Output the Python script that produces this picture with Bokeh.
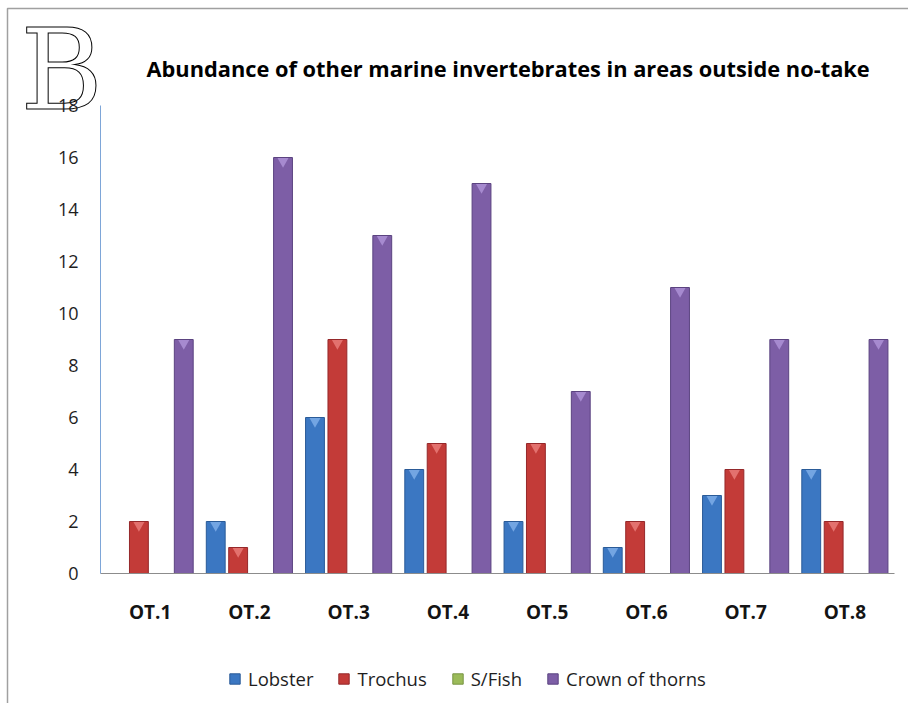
from bokeh.plotting import figure
from bokeh.models import (Range1d, Label, Legend, LegendItem, ColumnDataSource,
                          LinearAxis, FixedTicker, BoxAnnotation, CDSView, BooleanFilter)
from bokeh.transform import dodge
from bokeh.embed import file_html
from bokeh.resources import INLINE

sites = ["OT.1", "OT.2", "OT.3", "OT.4", "OT.5", "OT.6", "OT.7", "OT.8"]
lobster = [0, 2, 6, 4, 2, 1, 3, 4]
trochus = [2, 1, 9, 5, 5, 2, 4, 2]
sfish = [0, 0, 0, 0, 0, 0, 0, 0]
crown = [9, 16, 13, 15, 7, 11, 9, 9]
y_ticks = [0, 2, 4, 6, 8, 10, 12, 14, 16, 18]
y_max = 18
title_text = "Abundance of other marine invertebrates in areas outside no-take"

series = [
    ("Lobster", "Lobster", lobster, "#3b77c2", "#2a5b98", "#7aaae6", -0.339),
    ("Trochus", "Trochus", trochus, "#c33b38", "#95282a", "#e77874", -0.113),
    ("S/Fish", "SFish", sfish, "#9bbb59", "#789443", "#c2dc8c", 0.113),
    ("Crown of thorns", "Crown", crown, "#7d5ea6", "#5b4380", "#ab8fd4", 0.339),
]

# canvas geometry (pixels) -- the plotting frame covers the whole canvas,
# the axes are pinned inside it
W, H = 908, 703
left_px, right_px, top_px, bottom_px = 100, 14, 105, 130
n = len(sites)
xs = (W - left_px - right_px) / n
ys = (H - top_px - bottom_px) / y_max

pos = [i + 0.5 for i in range(n)]
src = ColumnDataSource(dict(pos=pos, Lobster=lobster, Trochus=trochus,
                            SFish=sfish, Crown=crown))

p = figure(width=W, height=H, output_backend="svg", toolbar_location=None,
           x_range=Range1d(-left_px / xs, n + right_px / xs),
           y_range=Range1d(-bottom_px / ys, y_max + top_px / ys),
           x_axis_location=None, y_axis_location=None,
           min_border=0, min_border_left=0, min_border_right=0,
           min_border_top=0, min_border_bottom=0)
p.outline_line_color = None
p.grid.visible = False
p.background_fill_color = "white"
p.border_fill_color = "white"

big_b = Label(x=20, y=H - 69, x_units="screen", y_units="screen", text="B",
              text_font="DejaVu Serif", text_font_size="112px",
              text_baseline="alphabetic", text_color="white",
              text_outline_color="black", level="underlay")
p.add_layout(big_b)

items = []
for name, col, vals, fc, lc, hc, off in series:
    r = p.vbar(x=dodge("pos", off, range=p.x_range), top=col, width=0.19,
               source=src, fill_color=fc, line_color=lc, line_width=1)
    items.append(LegendItem(label=name, renderers=[r]))
    # light bevel at the top of each non-empty bar
    view = CDSView(filter=BooleanFilter([v > 0 for v in vals]))
    p.scatter(x=dodge("pos", off, range=p.x_range), y=dodge(col, -3.8 / ys, range=p.y_range),
              marker="inverted_triangle", size=11, source=src, view=view,
              fill_color=hc, line_color=None, fill_alpha=0.9)

yax = LinearAxis(fixed_location=0, bounds=(0, y_max), ticker=FixedTicker(ticks=y_ticks))
yax.axis_line_color = "#7ea6d8"
yax.major_tick_line_color = None
yax.minor_tick_line_color = None
yax.major_tick_out = 0
yax.major_tick_in = 0
yax.major_label_standoff = 22
yax.major_label_text_font = "Open Sans"
yax.major_label_text_font_size = "18px"
yax.major_label_text_color = "#1e1e1e"
p.add_layout(yax, "left")

xax = LinearAxis(fixed_location=0, bounds=(0, n), ticker=FixedTicker(ticks=pos),
                 major_label_overrides={pp: s for pp, s in zip(pos, sites)})
xax.axis_line_color = "#8c8c8c"
xax.major_tick_line_color = None
xax.minor_tick_line_color = None
xax.major_tick_out = 0
xax.major_tick_in = 0
xax.major_label_standoff = 25
xax.major_label_text_font = "Open Sans"
xax.major_label_text_font_style = "bold"
xax.major_label_text_font_size = "19px"
xax.major_label_text_color = "#141414"
p.add_layout(xax, "below")

legend = Legend(items=items, orientation="horizontal", location=(228, 12),
                padding=0, margin=0, spacing=24, label_standoff=7,
                glyph_width=13, glyph_height=13, border_line_color=None,
                background_fill_alpha=0, label_text_font="Open Sans",
                label_text_font_size="18.5px", label_text_color="#1e1e1e")
p.add_layout(legend)

title = Label(x=146, y=H - 68, x_units="screen", y_units="screen", text=title_text,
              text_font="Open Sans", text_font_style="bold", text_font_size="21.8px",
              text_baseline="middle", text_color="black")
p.add_layout(title)

frame_box = BoxAnnotation(left=7, right=W + 50, bottom=-50, top=H - 8,
                          left_units="screen", right_units="screen",
                          bottom_units="screen", top_units="screen",
                          fill_alpha=0, fill_color=None,
                          line_color="#a0a0a0", line_width=1.5, line_alpha=1)
p.add_layout(frame_box)

open("out.html", "w").write(file_html(p, INLINE))
